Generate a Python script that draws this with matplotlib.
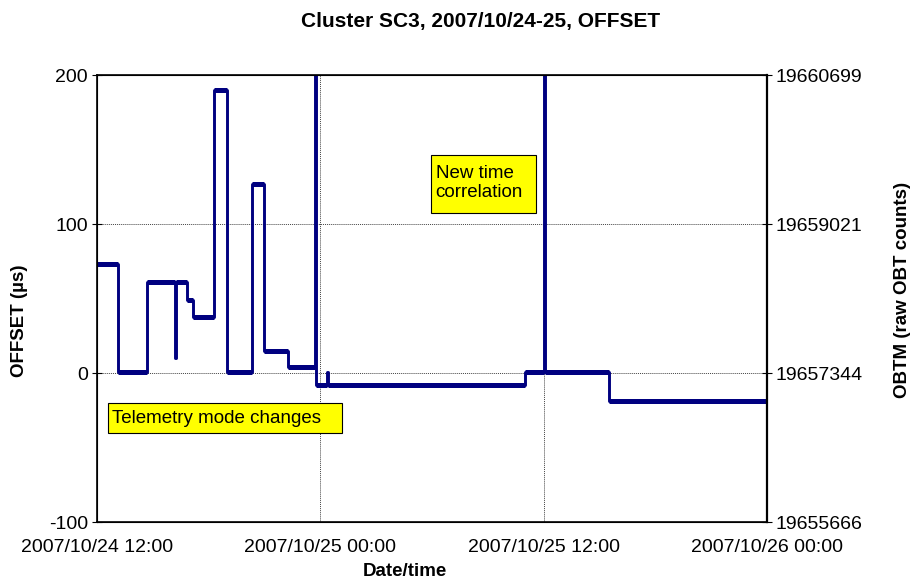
import matplotlib.pyplot as plt
import matplotlib.dates as mdates
from matplotlib.patches import Rectangle
import pandas as pd

plt.rcParams['font.family'] = ['Liberation Sans', 'DejaVu Sans']
plt.rcParams['axes.unicode_minus'] = False

# step changes, hours after 2007/10/24 12:00
hours = [0, 1.15, 2.67, 4.19, 4.23, 4.82, 5.18, 6.31, 7.0, 8.31, 9.0, 10.24,
         11.74, 11.79, 12.37, 12.41, 23.0, 24.03, 24.07, 27.5, 36]
offset = [73, 1, 61, 10, 61, 49, 38, 190, 1, 127, 15, 4,
          300, -8, 0.5, -8, 1, 300, 1, -19, -19]

t0 = pd.Timestamp('2007-10-24 12:00')
times = [t0 + pd.Timedelta(hours=h) for h in hours]

left_ticks = [-100, 0, 100, 200]
right_ticks = [19655666, 19657344, 19659021, 19660699]
x_ticks = [t0 + pd.Timedelta(hours=h) for h in [0, 12, 24, 36]]

fig = plt.figure(figsize=(9.15, 5.79), dpi=100)
ax = fig.add_axes([0.106, 0.0984, 0.732, 0.7716])
navy = '#000080'

ax.plot(times, offset, drawstyle='steps-post', color=navy, lw=2.1, zorder=3)
# flat parts look heavier (dense samples)
for i in range(len(times) - 1):
    if (hours[i + 1] - hours[i]) > 0.1:
        ax.hlines(offset[i], times[i], times[i + 1], color=navy, lw=3.6, zorder=3)

ax.set_xlim(x_ticks[0], x_ticks[-1])
ax.set_ylim(-100, 200)
ax.set_yticks(left_ticks)
ax.set_xticks(x_ticks)
ax.xaxis.set_major_formatter(mdates.DateFormatter('%Y/%m/%d %H:%M'))
ax.tick_params(axis='y', labelsize=14, direction='inout', length=7, pad=3)
ax.tick_params(axis='x', labelsize=14, length=0, pad=12)
ax.grid(True, color='#444444', linestyle=(0, (1, 1)), lw=0.7)
for s in ax.spines.values():
    s.set_linewidth(1.2)

ax2 = ax.twinx()
ax2.set_ylim(right_ticks[0], right_ticks[-1])
ax2.set_yticks(right_ticks)
ax2.set_yticklabels([str(v) for v in right_ticks])
ax2.tick_params(labelsize=14, direction='inout', length=7, pad=3)
ax2.spines['right'].set_linewidth(1.6)

ax.set_ylabel('OFFSET (µs)', fontsize=13.5, fontweight='bold')
ax.yaxis.set_label_coords(-0.103, 0.45)
ax2.set_ylabel('OBTM (raw OBT counts)', fontsize=13.5, fontweight='bold')
ax2.yaxis.set_label_coords(1.19, 0.52)
ax.set_xlabel('Date/time', fontsize=13.5, fontweight='bold')
ax.xaxis.set_label_coords(0.46, -0.092)
fig.suptitle('Cluster SC3, 2007/10/24-25, OFFSET', fontsize=15, fontweight='bold',
             x=0.525, y=0.98)

# yellow note boxes
ax.add_patch(Rectangle((0.0164, 0.199), 0.349, 0.067, transform=ax.transAxes,
                       facecolor='#ffff00', edgecolor='black', lw=0.8, zorder=5))
ax.text(0.0224, 0.2327, 'Telemetry mode changes', fontsize=13.5, transform=ax.transAxes,
        va='center', ha='left', zorder=6)
ax.add_patch(Rectangle((0.4985, 0.692), 0.1563, 0.129, transform=ax.transAxes,
                       facecolor='#ffff00', edgecolor='black', lw=0.8, zorder=5))
ax.text(0.5055, 0.758, 'New time\ncorrelation', fontsize=13.5, transform=ax.transAxes,
        va='center', ha='left', zorder=6, linespacing=1.15)

fig.savefig('out.png', dpi=100)
